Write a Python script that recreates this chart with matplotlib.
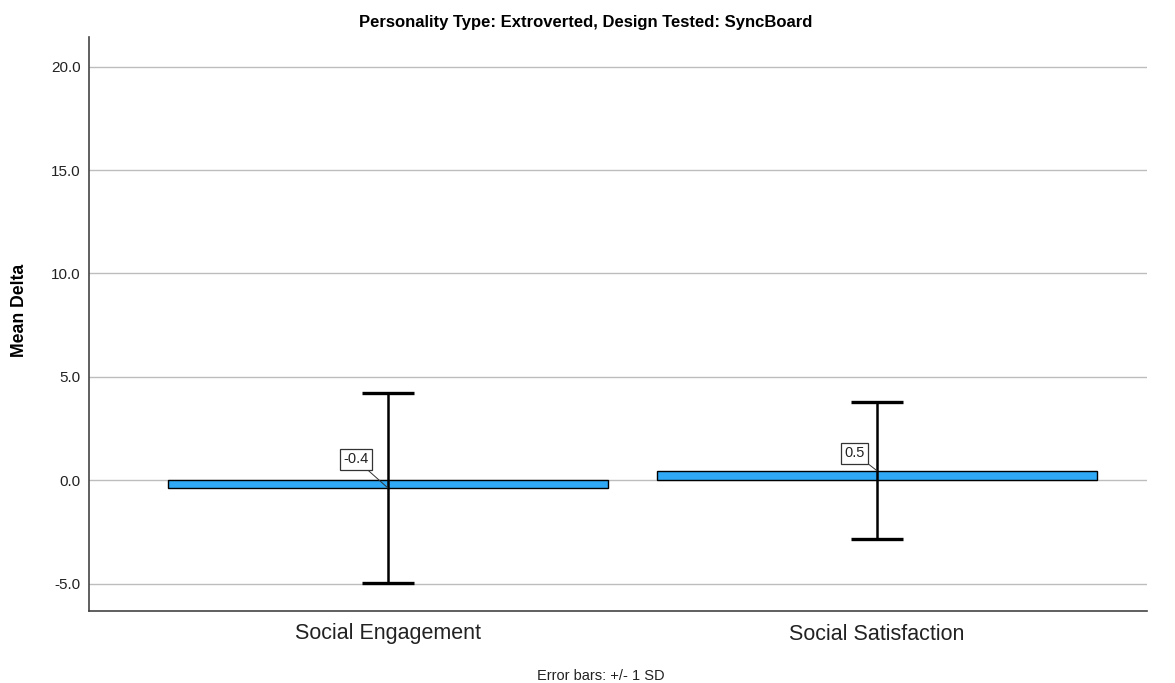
import matplotlib
matplotlib.use("Agg")
import matplotlib.pyplot as plt

# Mean change per measure with one standard deviation either side
categories = ["Social Engagement", "Social Satisfaction"]
means = [-0.37, 0.46]
sds = [4.59, 3.31]
yticks = [-5.0, 0.0, 5.0, 10.0, 15.0, 20.0]

title = "Personality Type: Extroverted, Design Tested: SyncBoard"
ylabel = "Mean Delta"
footnote = "Error bars: +/- 1 SD"

sans = ["Liberation Sans", "DejaVu Sans"]

fig = plt.figure(figsize=(11.75, 6.83), dpi=100)
ax = fig.add_axes([89 / 1175, 72 / 683, (1147 - 89) / 1175, (611 - 37) / 683])

x = list(range(len(categories)))
ax.bar(x, means, width=0.9, color="#2fa9f5", edgecolor="black", linewidth=1.0, zorder=3)
ax.errorbar(x, means, yerr=sds, fmt="none", ecolor="black", elinewidth=1.8,
            capsize=19, capthick=2.4, zorder=4)

# Value labels with a short leader to the bar end
offsets = [(-23, 20.5), (-16, 12.5)]
for xi, m, off in zip(x, means, offsets):
    ax.annotate(f"{m:.1f}", xy=(xi, m), xytext=off, textcoords="offset points",
                ha="center", va="center", fontsize=10.5, family=sans, color="#222222",
                bbox=dict(boxstyle="square,pad=0.22", fc="white", ec="#333333", lw=0.9),
                arrowprops=dict(arrowstyle="-", color="#333333", lw=0.7,
                                shrinkA=0, shrinkB=0),
                zorder=5)

ax.set_xlim(-0.611, 1.552)
ax.set_ylim(-6.32, 21.43)
ax.set_yticks(yticks)
ax.set_yticklabels([f"{t:.1f}" for t in yticks], fontsize=11, family=sans, color="#222222")
ax.set_xticks(x)
ax.set_xticklabels(categories, fontsize=15.5, family=sans, color="#222222")
ax.tick_params(axis="both", length=0)
ax.tick_params(axis="y", pad=6)
ax.tick_params(axis="x", pad=9)

ax.yaxis.grid(True, color="#bdbdbd", linewidth=1.0, zorder=0)
ax.set_axisbelow(True)
for side in ("top", "right"):
    ax.spines[side].set_visible(False)
for side in ("left", "bottom"):
    ax.spines[side].set_color("#444444")
    ax.spines[side].set_linewidth(1.2)

fig.text(20 / 1175, 1 - 310 / 683, ylabel, rotation=90, ha="center", va="center",
         fontsize=12.7, fontweight="bold", family=sans)
fig.text(586 / 1175, 1 - 23 / 683, title, ha="center", va="center",
         fontsize=12, fontweight="bold", family=sans)
fig.text(601 / 1175, 1 - 676 / 683, footnote, ha="center", va="center",
         fontsize=10.5, family=sans, color="#222222")

fig.savefig("out.png", dpi=100)
